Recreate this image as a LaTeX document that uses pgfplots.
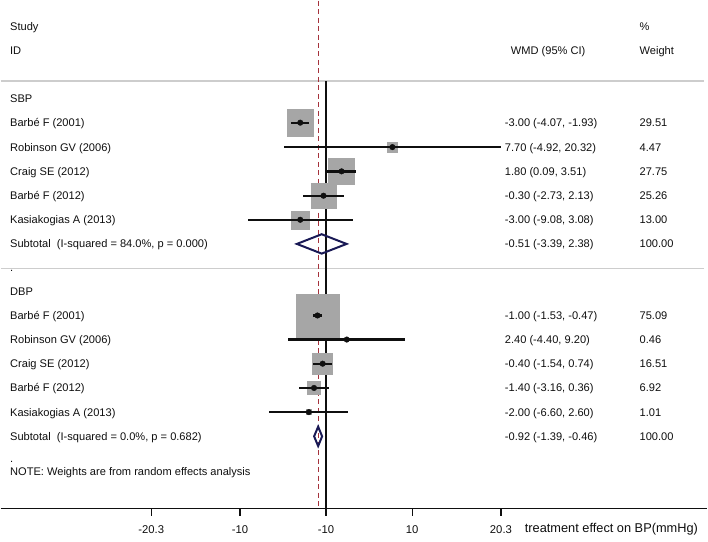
\documentclass[border=0pt]{standalone}
\usepackage{pgfplots}
\pgfplotsset{compat=1.18}
\usepackage{pgfplotstable}
\usepackage{fontspec}
\setmainfont{Liberation Sans}
\definecolor{boxgray}{RGB}{166,166,166}
\definecolor{rulegray}{RGB}{205,205,205}
\definecolor{navy}{RGB}{25,25,85}
\definecolor{nullred}{RGB}{165,50,60}
\definecolor{ink}{RGB}{15,15,15}
% text rows: node y is the row centre, baseline sits 4pt below it
\tikzset{lab/.style={anchor=base west, yshift=-4pt, inner sep=0pt, text=ink,
  font=\fontsize{11.1}{13}\selectfont}}

% y = 509 - pixel row; x = WMD (mmHg)
\pgfplotstableread{
y     est    lo     hi     half
386.7 -3.00  -4.07  -1.93  13.48
362.2  7.70  -4.92  20.32   5.25
337.9  1.80   0.09   3.51  13.07
313.5 -0.30  -2.73   2.13  12.47
289.4 -3.00  -9.08   3.08   8.95
193.5 -1.00  -1.53  -0.47  21.50
169.4  2.40  -4.40   9.20   1.68
145.2 -0.40  -1.54   0.74  10.08
120.9 -1.40  -3.16   0.36   6.53
 96.7 -2.00  -6.60   2.60   2.49
}\studies

\begin{document}
\begin{tikzpicture}
\begin{axis}[
  scale only axis, width=708pt, height=509pt,
  xmin=-37.775, xmax=44.264, ymin=0, ymax=509,
  axis x line*=bottom, axis y line=none,
  axis line style={ink, line width=1.3pt},
  xtick={-20.3,-10,0,10,20.3},
  xticklabels={-20.3,-10,-10,10,20.3},
  tick align=outside, major tick length=7pt,
  every tick/.append style={ink, line width=1.2pt},
  xticklabel style={font=\fontsize{11.3}{13}\selectfont, text=ink, yshift=-6pt},
  clip=false, clip marker paths=true,
]
  % frame for bounding box
  \path (axis cs:-37.775,-33) rectangle (axis cs:44.264,509);
  % separators
  \addplot[rulegray, line width=1.4pt] coordinates {(-37.775,428.3) (43.92,428.3)};
  \addplot[rulegray, line width=1.4pt] coordinates {(-37.775,240.3) (43.92,240.3)};
  % null line and overall line
  \addplot[ink, line width=1.3pt] coordinates {(0,428.3) (0,0)};
  \addplot[nullred, line width=1.2pt, dash pattern=on 5pt off 3.5pt] coordinates {(-0.92,509) (-0.92,0)};
  % weight boxes
  \addplot[scatter, only marks, mark=square*,
    scatter/use mapped color={draw=boxgray, fill=boxgray},
    visualization depends on={\thisrow{half} \as \half},
    scatter/@pre marker code/.append style={/tikz/mark size=\half}]
    table[x=est, y=y] {\studies};
  % confidence intervals
  \addplot[draw=none, mark=none,
    error bars/.cd, x dir=both, x explicit, error mark=none,
    error bar style={ink, line width=2.3pt}]
    table[x=est, y=y,
      x error plus expr=\thisrow{hi}-\thisrow{est},
      x error minus expr=\thisrow{est}-\thisrow{lo}] {\studies};
  \addplot[only marks, mark=*, mark size=2.8pt, ink] table[x=est, y=y] {\studies};
  % subtotals
  \addplot[navy, line width=2pt] coordinates
    {(-3.39,265.2) (-0.51,274.9) (2.38,265.2) (-0.51,255.5)} -- cycle;
  \addplot[navy, line width=2pt] coordinates
    {(-1.39,72.4) (-0.92,82.1) (-0.46,72.4) (-0.92,62.7)} -- cycle;

  % left column
  \node[lab] at (axis cs:-36.70,483) {Study};
  \node[lab] at (axis cs:-36.70,458.5) {ID};
  \node[lab] at (axis cs:-36.70,411) {SBP};
  \node[lab] at (axis cs:-36.70,386.7) {Barbé F (2001)};
  \node[lab] at (axis cs:-36.70,362.2) {Robinson GV (2006)};
  \node[lab] at (axis cs:-36.70,337.9) {Craig SE (2012)};
  \node[lab] at (axis cs:-36.70,313.5) {Barbé F (2012)};
  \node[lab] at (axis cs:-36.70,289.4) {Kasiakogias A (2013)};
  \node[lab] at (axis cs:-36.70,265.2) {Subtotal\ \ (I-squared = 84.0\%, p = 0.000)};
  \node[lab] at (axis cs:-36.70,241.3) {.};
  \node[lab] at (axis cs:-36.70,218) {DBP};
  \node[lab] at (axis cs:-36.70,193.5) {Barbé F (2001)};
  \node[lab] at (axis cs:-36.70,169.4) {Robinson GV (2006)};
  \node[lab] at (axis cs:-36.70,145.2) {Craig SE (2012)};
  \node[lab] at (axis cs:-36.70,120.9) {Barbé F (2012)};
  \node[lab] at (axis cs:-36.70,96.7) {Kasiakogias A (2013)};
  \node[lab] at (axis cs:-36.70,72.4) {Subtotal\ \ (I-squared = 0.0\%, p = 0.682)};
  \node[lab] at (axis cs:-36.70,50.3) {.};
  \node[lab] at (axis cs:-36.70,37.3) {NOTE: Weights are from random effects analysis};

  % effect column
  \node[lab] at (axis cs:21.44,458.5) {WMD (95\% CI)};
  \node[lab] at (axis cs:20.74,386.7) {-3.00 (-4.07, -1.93)};
  \node[lab] at (axis cs:20.74,362.2) {7.70 (-4.92, 20.32)};
  \node[lab] at (axis cs:20.74,337.9) {1.80 (0.09, 3.51)};
  \node[lab] at (axis cs:20.74,313.5) {-0.30 (-2.73, 2.13)};
  \node[lab] at (axis cs:20.74,289.4) {-3.00 (-9.08, 3.08)};
  \node[lab] at (axis cs:20.74,265.2) {-0.51 (-3.39, 2.38)};
  \node[lab] at (axis cs:20.74,193.5) {-1.00 (-1.53, -0.47)};
  \node[lab] at (axis cs:20.74,169.4) {2.40 (-4.40, 9.20)};
  \node[lab] at (axis cs:20.74,145.2) {-0.40 (-1.54, 0.74)};
  \node[lab] at (axis cs:20.74,120.9) {-1.40 (-3.16, 0.36)};
  \node[lab] at (axis cs:20.74,96.7) {-2.00 (-6.60, 2.60)};
  \node[lab] at (axis cs:20.74,72.4) {-0.92 (-1.39, -0.46)};

  % weight column
  \node[lab] at (axis cs:36.38,483) {\%};
  \node[lab] at (axis cs:36.38,458.5) {Weight};
  \node[lab] at (axis cs:36.38,386.7) {29.51};
  \node[lab] at (axis cs:36.38,362.2) {4.47};
  \node[lab] at (axis cs:36.38,337.9) {27.75};
  \node[lab] at (axis cs:36.38,313.5) {25.26};
  \node[lab] at (axis cs:36.38,289.4) {13.00};
  \node[lab] at (axis cs:36.38,265.2) {100.00};
  \node[lab] at (axis cs:36.38,193.5) {75.09};
  \node[lab] at (axis cs:36.38,169.4) {0.46};
  \node[lab] at (axis cs:36.38,145.2) {16.51};
  \node[lab] at (axis cs:36.38,120.9) {6.92};
  \node[lab] at (axis cs:36.38,96.7) {1.01};
  \node[lab] at (axis cs:36.38,72.4) {100.00};

  % axis title
  \node[lab, yshift=-0.5pt, font=\fontsize{12.8}{15}\selectfont] at (axis cs:23.06,-19) {treatment effect on BP(mmHg)};
\end{axis}
\end{tikzpicture}
\end{document}
